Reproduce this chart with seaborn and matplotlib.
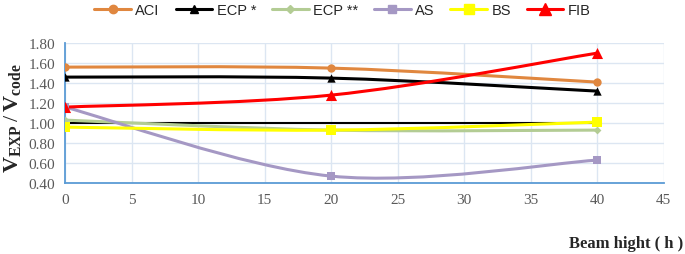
import numpy as np
import pandas as pd
import seaborn as sns
import matplotlib.pyplot as plt
from matplotlib.path import Path
from matplotlib.patches import PathPatch
from matplotlib.lines import Line2D

# data
beam_h = [0, 20, 40]
aci = [1.56, 1.55, 1.41]
ecp1 = [1.46, 1.45, 1.32]
ecp2 = [1.03, 0.93, 0.93]
as_vals = [1.16, 0.47, 0.63]
bs = [0.96, 0.93, 1.01]
fib = [1.16, 1.28, 1.70]
ref_x = [0, 40]
ref_y = [1.0, 1.0]

names = ['ACI', 'ECP *', 'ECP **', 'AS', 'BS', 'FIB']
colors = ['#E0873F', '#000000', '#B3CC94', '#A598C4', '#FFFF00', '#FF0000']
markers = ['o', '^', 'D', 's', 's', '^']
msizes = [6, 6, 4, 6, 7, 8]

sns.set_style('white')
plt.rcParams['mathtext.fontset'] = 'custom'
plt.rcParams['mathtext.rm'] = 'Liberation Serif'
plt.rcParams['mathtext.bf'] = 'Liberation Serif:bold'

fig = plt.figure(figsize=(6.85, 2.55), dpi=100)
ax = fig.add_axes([0.095, 0.278, 0.874, 0.549])

df = pd.DataFrame({'h': beam_h, 'ACI': aci, 'ECP *': ecp1, 'ECP **': ecp2,
                   'AS': as_vals, 'BS': bs, 'FIB': fib})


def smooth_path(xs, ys):
    # excel-style smoothed line as bezier segments
    pts = list(zip(xs, ys))
    verts = [pts[0]]
    codes = [Path.MOVETO]
    n = len(pts)
    for i in range(n - 1):
        p0 = np.array(pts[max(i - 1, 0)])
        p1 = np.array(pts[i])
        p2 = np.array(pts[i + 1])
        p3 = np.array(pts[min(i + 2, n - 1)])
        c1 = p1 + (p2 - p0) / 6
        c2 = p2 - (p3 - p1) / 6
        verts += [tuple(c1), tuple(c2), tuple(p2)]
        codes += [Path.CURVE4] * 3
    return Path(verts, codes)


# reference line at 1.0
sns.lineplot(x=ref_x, y=ref_y, color='black', linewidth=1.5, ax=ax)

handles = []
for name, c, m, ms in zip(names, colors, markers, msizes):
    ax.add_patch(PathPatch(smooth_path(df['h'], df[name]), facecolor='none',
                           edgecolor=c, linewidth=2.2, zorder=3))
    sns.scatterplot(x=df['h'], y=df[name], color=c, marker=m, s=ms ** 2,
                    edgecolor=c, linewidth=0, ax=ax, zorder=4)
    handles.append(Line2D([], [], color=c, linewidth=2.2, marker=m, markersize=ms))

ax.set_xlim(0, 45)
ax.set_ylim(0.40, 1.80)
ax.set_xticks(range(0, 50, 5))
ax.set_yticks(np.arange(0.4, 1.81, 0.2))
ax.set_yticklabels([f'{v:.2f}' for v in np.arange(0.4, 1.81, 0.2)])
ax.grid(True, color='#DCE6F2', linewidth=1)
for s in ['top', 'right']:
    ax.spines[s].set_visible(False)
for s in ['left', 'bottom']:
    ax.spines[s].set_color('#5B9BD5')
    ax.spines[s].set_linewidth(1.3)
ax.tick_params(axis='both', length=0, labelsize=11, labelcolor='#595959', pad=7)
for lab in ax.get_xticklabels() + ax.get_yticklabels():
    lab.set_family('Liberation Serif')
ax.set_xlabel('')
ax.set_ylabel('')

fig.text(0.02, 0.535, r'$\mathbf{V}_{\mathbf{EXP}}\,/\,\mathbf{V}_{\mathbf{code}}$',
         rotation=90, ha='center', va='center', fontsize=16)
fig.text(0.998, 0.045, 'Beam hight ( h )', ha='right', va='center',
         fontsize=12, fontweight='bold', family='Liberation Serif')

fig.legend(handles, names, loc='center', bbox_to_anchor=(0.5, 0.955), ncol=6,
           frameon=False, prop={'family': 'Liberation Sans', 'size': 10.5},
           handlelength=2.5, handletextpad=0.3, columnspacing=1.1)

fig.savefig('out.png', dpi=100)
